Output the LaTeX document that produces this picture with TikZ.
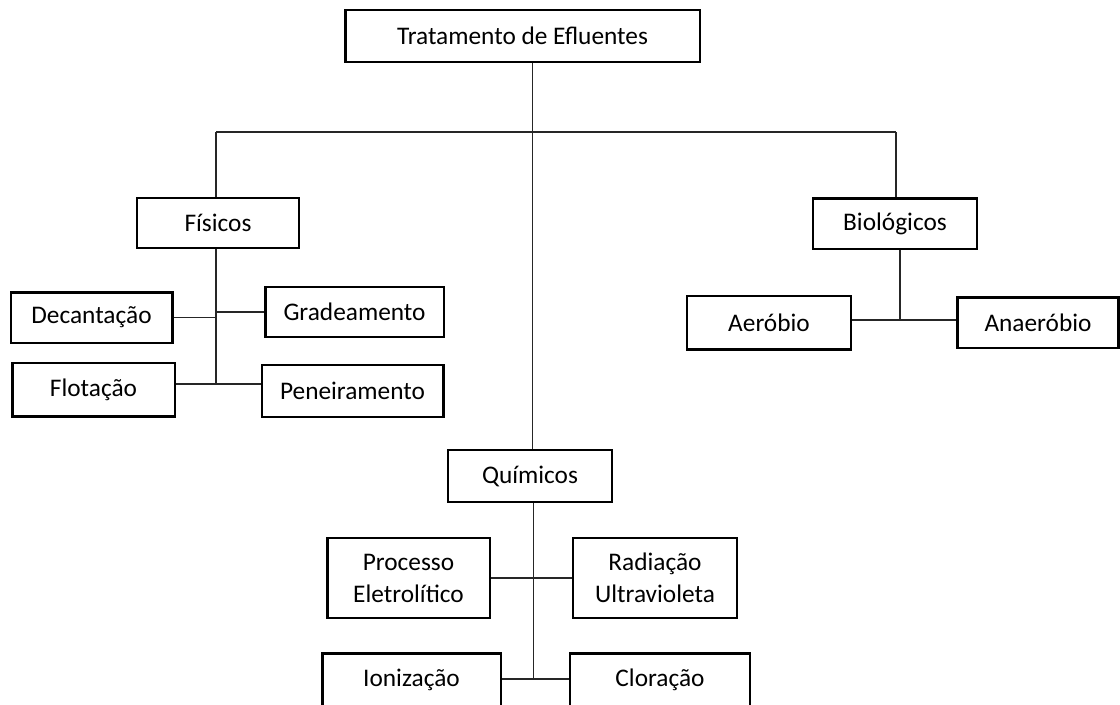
\documentclass[tikz,border=0pt]{standalone}
\usepackage{fontspec}
\setmainfont{Carlito}
\tikzset{
  box/.style={draw=black, line width=2pt, fill=white, align=center, inner sep=0pt,
    font=\fontsize{19}{24}\selectfont},
  conn/.style={draw=black!85, line width=1.3pt}
}
\begin{document}
\begin{tikzpicture}[x=0.75pt,y=-0.75pt]
\useasboundingbox[fill=white] (0,0) rectangle (1120,704);
% nodes
\node[box, minimum width=266pt, minimum height=39pt] (top) at (522.5,36) {Tratamento de Efluentes};
\node[box, minimum width=121.5pt, minimum height=37.5pt] (fis) at (218,223) {Físicos};
\node[box, minimum width=123pt, minimum height=38pt] (bio) at (895,223.5) {Biológicos};
\node[box, minimum width=121pt, minimum height=38pt] (dec) at (91.5,317.5) {Decantação};
\node[box, minimum width=134pt, minimum height=37.5pt] (gra) at (354.5,312) {Gradeamento};
\node[box, minimum width=122pt, minimum height=40pt] (flo) at (93.5,389.5) {Flotação};
\node[box, minimum width=136pt, minimum height=39pt] (pen) at (352.5,391) {Peneiramento};
\node[box, minimum width=123pt, minimum height=40pt] (aer) at (769,322.5) {Aeróbio};
\node[box, minimum width=121pt, minimum height=38pt] (ana) at (1038,322.5) {Anaeróbio};
\node[box, minimum width=123pt, minimum height=39pt] (qui) at (530,476) {Químicos};
\node[box, minimum width=122pt, minimum height=60pt] (pro) at (408.5,578) {Processo\\Eletrolítico};
\node[box, minimum width=123pt, minimum height=60pt] (rad) at (655,578) {Radiação\\Ultravioleta};
\node[box, minimum width=134pt, minimum height=40pt] (ion) at (411.5,680) {Ionização};
\node[box, minimum width=135pt, minimum height=40pt] (clo) at (660,680) {Cloração};
% junctions
\coordinate (j0) at (532.5,132);
\coordinate (jl) at (216,132);
\coordinate (jr) at (896,132);
\coordinate (jf) at (216,384);
\coordinate (jb) at (900,320);
\coordinate (jq) at (533.5,679);
% connectors
\draw[conn] (top.south -| j0) -- (qui.north -| j0);
\draw[conn] (jl) -- (jr);
\draw[conn] (jl) -- (fis.north -| jl);
\draw[conn] (jr) -- (bio.north -| jr);
\draw[conn] (fis.south -| jf) -- (jf);
\draw[conn] (dec.east) -- (dec.east -| jf);
\draw[conn] (gra.west) -- (gra.west -| jf);
\draw[conn] (flo.east |- jf) -- (jf);
\draw[conn] (pen.west |- jf) -- (jf);
\draw[conn] (bio.south -| jb) -- (jb);
\draw[conn] (aer.east |- jb) -- (jb);
\draw[conn] (ana.west |- jb) -- (jb);
\draw[conn] (qui.south -| jq) -- (jq);
\draw[conn] (pro.east) -- (pro.east -| jq);
\draw[conn] (rad.west) -- (rad.west -| jq);
\draw[conn] (ion.east |- jq) -- (jq);
\draw[conn] (clo.west |- jq) -- (jq);
\end{tikzpicture}
\end{document}
